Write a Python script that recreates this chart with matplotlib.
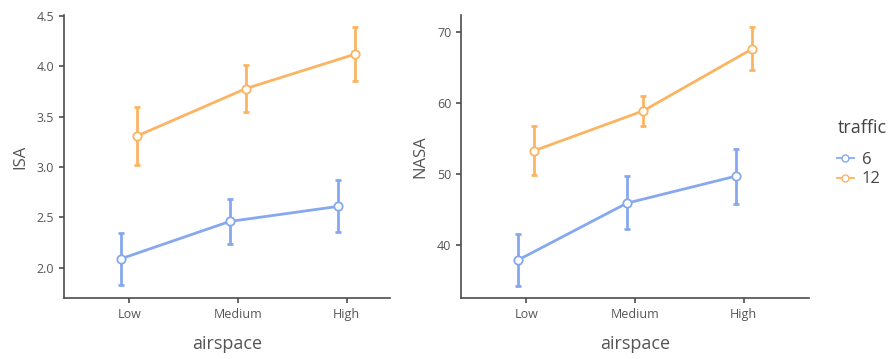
import numpy as np
import matplotlib
matplotlib.use("Agg")
import matplotlib.pyplot as plt
from matplotlib.lines import Line2D

plt.rcParams['font.family'] = ['Open Sans', 'DejaVu Sans']

airspace = ["Low", "Medium", "High"]
traffic = ["6", "12"]

# ISA means and error-bar limits
isa_6 = [2.09, 2.46, 2.61]
isa_6_lo = [1.83, 2.24, 2.36]
isa_6_hi = [2.35, 2.68, 2.87]
isa_12 = [3.31, 3.78, 4.12]
isa_12_lo = [3.02, 3.55, 3.85]
isa_12_hi = [3.60, 4.01, 4.39]

# NASA means and error-bar limits
nasa_6 = [37.9, 45.9, 49.7]
nasa_6_lo = [34.3, 42.2, 45.8]
nasa_6_hi = [41.5, 49.7, 53.6]
nasa_12 = [53.3, 58.9, 67.6]
nasa_12_lo = [49.9, 56.8, 64.7]
nasa_12_hi = [56.8, 61.0, 70.7]

colors = {"6": "#86a8ee", "12": "#fbb462"}
dodge = {"6": -0.075, "12": 0.075}
axis_col = "#4d4d4d"
text_col = "#555555"


def draw_panel(ax, data, ylabel, yticks, ylim, xlim):
    x = np.arange(len(airspace))
    for t in traffic:
        mean, lo, hi = data[t]
        mean = np.array(mean)
        err = [mean - np.array(lo), np.array(hi) - mean]
        xs = x + dodge[t]
        ax.errorbar(xs, mean, yerr=err, fmt='none', ecolor=colors[t],
                    elinewidth=2, capsize=2, capthick=2, zorder=2)
        ax.plot(xs, mean, color=colors[t], lw=2, marker='o', ms=6,
                mfc='white', mec=colors[t], mew=1.3, zorder=3)
    ax.set_xticks(x)
    ax.set_xticklabels(airspace)
    ax.set_yticks(yticks)
    ax.set_xlim(*xlim)
    ax.set_ylim(*ylim)
    for s in ["top", "right"]:
        ax.spines[s].set_visible(False)
    for s in ["left", "bottom"]:
        ax.spines[s].set_color(axis_col)
        ax.spines[s].set_linewidth(1.2)
    ax.tick_params(colors=axis_col, labelcolor=text_col, labelsize=9,
                   length=3.5, width=1.2)
    ax.set_xlabel("airspace", fontsize=13, color=text_col, labelpad=10)
    ax.set_ylabel(ylabel, fontsize=12, color=text_col, labelpad=6)


fig = plt.figure(figsize=(8.88, 3.59), dpi=100)
ax1 = fig.add_axes([64 / 888, 61 / 359, 326 / 888, 283 / 359])
ax2 = fig.add_axes([461 / 888, 61 / 359, 348 / 888, 283 / 359])

draw_panel(ax1, {"6": (isa_6, isa_6_lo, isa_6_hi),
                 "12": (isa_12, isa_12_lo, isa_12_hi)},
           "ISA", [2.0, 2.5, 3.0, 3.5, 4.0, 4.5], (1.70, 4.51), (-0.6, 2.4))
ax1.set_yticklabels(["2.0", "2.5", "3.0", "3.5", "4.0", "4.5"])
draw_panel(ax2, {"6": (nasa_6, nasa_6_lo, nasa_6_hi),
                 "12": (nasa_12, nasa_12_lo, nasa_12_hi)},
           "NASA", [40, 50, 60, 70], (32.55, 72.4), (-0.6, 2.6))

fig.text(838 / 888, 1 - 128 / 359, "traffic", fontsize=13, color="#444444",
         va="center", ha="left")
handles = [Line2D([0], [0], color=colors[t], lw=1.3, marker='o', ms=5,
                  mfc='white', mec=colors[t]) for t in traffic]
leg = fig.legend(handles, traffic, loc="upper left",
                 bbox_to_anchor=(837 / 888, 1 - 152 / 359), frameon=False,
                 fontsize=12, handlelength=1.0, handletextpad=0.5,
                 labelspacing=0.2, borderpad=0, borderaxespad=0)
for txt in leg.get_texts():
    txt.set_color("#444444")

fig.savefig("out.png", dpi=100)
